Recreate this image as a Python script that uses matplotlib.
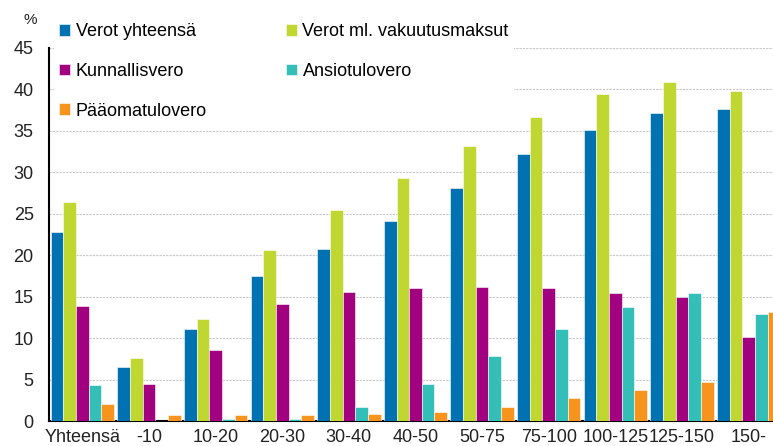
import matplotlib
matplotlib.use("Agg")
import matplotlib.pyplot as plt
import numpy as np

plt.rcParams['font.family'] = ['Liberation Sans', 'DejaVu Sans']

categories = ["Yhteensä", "-10", "10-20", "20-30", "30-40", "40-50",
              "50-75", "75-100", "100-125", "125-150", "150-"]
series_names = ["Verot yhteensä", "Verot ml. vakuutusmaksut", "Kunnallisvero",
                "Ansiotulovero", "Pääomatulovero"]
verot_yhteensa = [22.8, 6.5, 11.1, 17.5, 20.8, 24.1, 28.1, 32.2, 35.1, 37.1, 37.7]
verot_ml_vakuutus = [26.4, 7.6, 12.3, 20.6, 25.4, 29.3, 33.2, 36.7, 39.4, 40.9, 39.8]
kunnallisvero = [13.9, 4.5, 8.6, 14.1, 15.6, 16.0, 16.2, 16.0, 15.4, 15.0, 10.1]
ansiotulovero = [4.3, 0.0, 0.3, 0.3, 1.65, 4.5, 7.8, 11.1, 13.8, 15.4, 12.9]
paaomatulovero = [2.0, 0.7, 0.7, 0.7, 0.85, 1.05, 1.65, 2.8, 3.7, 4.7, 13.2]
colors = ["#0072B1", "#BFD730", "#A1007F", "#34BEB8", "#F7941E"]

series = [verot_yhteensa, verot_ml_vakuutus, kunnallisvero, ansiotulovero, paaomatulovero]

W, H = 773, 446
FS = 13
fig = plt.figure(figsize=(W / 100, H / 100), dpi=100)
ax = fig.add_axes([49 / W, (H - 421) / H, 733 / W, (421 - 48) / H])

x = np.arange(len(categories))
bw = 0.19
handles = []
for k, (vals, name, c) in enumerate(zip(series, series_names, colors)):
    h = ax.bar(x + (k - 2) * bw, vals, bw, color=c, label=name,
               edgecolor="white", linewidth=0.4, zorder=3)
    handles.append(h)

ax.set_xlim(-0.5, len(categories) - 0.5)
ax.set_ylim(0, 45)
ax.set_yticks(np.arange(0, 46, 5))
ax.set_xticks(x)
ax.set_xticklabels(categories)
ax.tick_params(axis='both', length=0, labelsize=FS, colors="#222222")
ax.tick_params(axis='y', pad=11)
ax.tick_params(axis='x', pad=6)
ax.yaxis.grid(True, color="#c8c8c8", linestyle=(0, (2, 1)), linewidth=0.8, zorder=0)
ax.set_axisbelow(True)
for s in ["top", "right"]:
    ax.spines[s].set_visible(False)
for s in ["left", "bottom"]:
    ax.spines[s].set_linewidth(1.5)
    ax.spines[s].set_color("black")

order = [0, 2, 4, 1, 3]
leg = ax.legend([handles[i] for i in order], [series_names[i] for i in order],
                loc="upper left", bbox_to_anchor=(54 / W, 1 - 18 / H),
                bbox_transform=fig.transFigure, ncol=2, frameon=True,
                facecolor="white", edgecolor="none", framealpha=1,
                fontsize=FS, handlelength=0.6, handleheight=0.6,
                handletextpad=0.3, labelspacing=1.25, columnspacing=4.4,
                borderpad=0.3, borderaxespad=0, fancybox=False)
leg.set_zorder(5)

fig.text(30 / W, 1 - 20 / H, "%", fontsize=11, ha="center", va="center",
         color="#222222")

fig.savefig("out.png", dpi=100)
